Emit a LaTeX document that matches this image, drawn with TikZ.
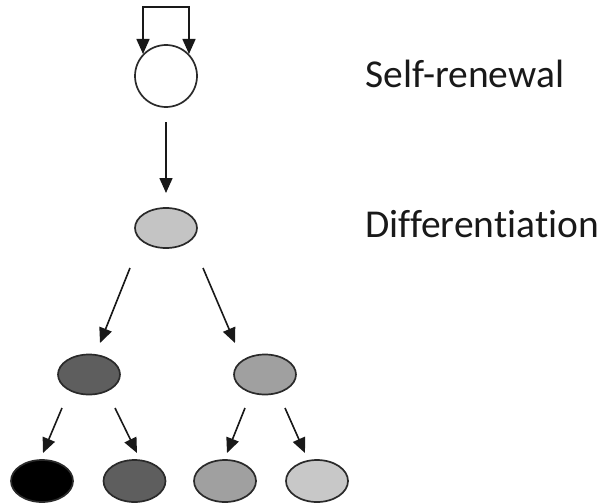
\documentclass[tikz,border=0pt]{standalone}
\usepackage{fontspec}
\setmainfont[Ligatures={NoCommon}]{Carlito}
\usetikzlibrary{arrows.meta,shapes.geometric,calc}
\definecolor{edgegray}{HTML}{2A2A2A}
\definecolor{gA}{HTML}{C4C4C4}
\definecolor{gB}{HTML}{5E5E5E}
\definecolor{gC}{HTML}{A0A0A0}
\definecolor{gD}{HTML}{C8C8C8}
\tikzset{
  cell/.style={ellipse, draw=edgegray, line width=1.7pt, inner sep=0pt, minimum width=62pt, minimum height=40pt},
  tip/.tip={Triangle[length=15pt,width=13pt]},
  conn/.style={draw=black!90, line width=1.6pt, -tip},
  lbl/.style={anchor=base west, font=\fontsize{39.5}{40}\selectfont, text=black!90, inner sep=0pt}
}
\begin{document}
\begin{tikzpicture}[x=1pt,y=-1pt]
\useasboundingbox (0,0) rectangle (607,503);
% nodes
\node[circle, draw=edgegray, line width=1.7pt, fill=white, minimum size=62pt, inner sep=0pt] (stem) at (166,76) {};
\node[cell, fill=gA] (diff) at (166,228) {};
\node[cell, fill=gB] (l) at (89,374.5) {};
\node[cell, fill=gC] (r) at (265,374.5) {};
\node[cell, fill=black, minimum height=42pt] (ll) at (42,481) {};
\node[cell, fill=gB, minimum height=42pt] (lr) at (134.5,481) {};
\node[cell, fill=gC, minimum height=42pt] (rl) at (225,481) {};
\node[cell, fill=gD, minimum height=42pt] (rr) at (317,481) {};
\node[lbl] (t1) at (365,87) {Self-renewal};
\node[lbl] (t2) at (365,237) {Differentiation};
% coordinates
\coordinate (loopL) at ($(stem.center)+(-23,-22)$);
\coordinate (loopR) at ($(stem.center)+(23,-22)$);
\coordinate (topL) at ($(stem.center)+(-23,-69)$);
\coordinate (topR) at ($(stem.center)+(23,-69)$);
\coordinate (s1) at ($(stem.center)+(0,46)$);
\coordinate (e1) at ($(diff.center)+(0,-35)$);
\coordinate (s2) at ($(diff.center)+(-36,40)$);
\coordinate (e2) at ($(l.center)+(11,-31.5)$);
\coordinate (s3) at ($(diff.center)+(37,40)$);
\coordinate (e3) at ($(r.center)+(-30,-31.5)$);
\coordinate (s4) at ($(l.center)+(-27,33.5)$);
\coordinate (e4) at ($(ll.center)+(1,-28)$);
\coordinate (s5) at ($(l.center)+(26,33.5)$);
\coordinate (e5) at ($(lr.center)+(2.5,-28)$);
\coordinate (s6) at ($(r.center)+(-20,33.5)$);
\coordinate (e6) at ($(rl.center)+(2,-28)$);
\coordinate (s7) at ($(r.center)+(20,33.5)$);
\coordinate (e7) at ($(rr.center)+(-12,-28)$);
% connectors
\draw[conn, tip-tip] (loopL) -- (topL) -- (topR) -- (loopR);
\draw[conn] (s1) -- (e1);
\draw[conn] (s2) -- (e2);
\draw[conn] (s3) -- (e3);
\draw[conn] (s4) -- (e4);
\draw[conn] (s5) -- (e5);
\draw[conn] (s6) -- (e6);
\draw[conn] (s7) -- (e7);
\end{tikzpicture}
\end{document}
